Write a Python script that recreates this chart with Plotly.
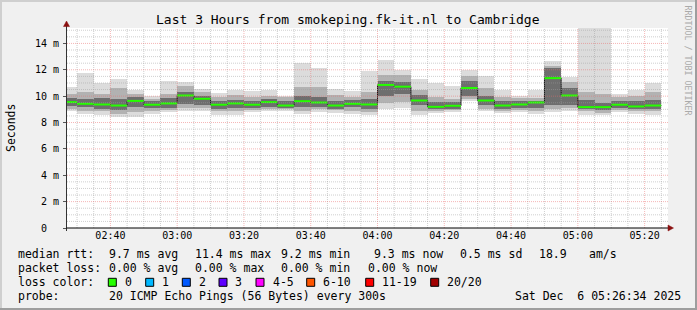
import plotly.graph_objects as go
import pandas as pd

# ---------------- data (ms) ----------------
start_time = "2025-12-06 02:25:00"   # first 5-minute step start
step_minutes = 5
minimum = [8.85, 8.67, 8.60, 8.42, 8.42, 8.62, 8.77, 8.85, 8.85, 8.60, 8.60, 8.80,
           8.90, 8.90, 8.67, 8.80, 8.75, 8.67, 8.54, 9.04, 9.07, 8.60, 8.74, 8.80,
           9.60, 8.84, 8.72, 8.79, 8.67, 8.79, 8.84, 8.60, 8.54, 8.79, 8.67, 8.60]
low10 = [9.05, 8.90, 8.85, 8.67, 8.80, 8.90, 8.95, 9.10, 9.10, 8.85, 8.85, 8.95,
         9.05, 9.00, 8.90, 9.00, 8.95, 8.90, 8.80, 9.50, 9.55, 8.90, 8.90, 8.95,
         9.80, 9.05, 8.90, 8.95, 8.90, 9.05, 9.10, 8.85, 8.75, 8.95, 8.90, 8.85]
low25 = [9.25, 9.20, 9.05, 8.95, 9.15, 9.10, 9.10, 9.40, 9.35, 9.05, 9.10, 9.10,
         9.20, 9.10, 9.15, 9.20, 9.05, 9.15, 9.05, 10.00, 10.20, 9.30, 9.00, 9.05,
         10.05, 9.30, 9.05, 9.10, 9.10, 9.30, 9.30, 9.00, 8.95, 9.10, 9.05, 9.00]
median = [9.55, 9.42, 9.37, 9.29, 9.64, 9.35, 9.45, 10.05, 9.80, 9.35, 9.45, 9.35,
          9.55, 9.29, 9.62, 9.52, 9.29, 9.42, 9.37, 10.85, 10.72, 9.67, 9.19, 9.27,
          10.62, 9.67, 9.29, 9.37, 9.52, 11.37, 10.05, 9.17, 9.17, 9.35, 9.22, 9.29]
high75 = [9.85, 9.80, 9.85, 9.80, 9.90, 9.60, 9.85, 10.30, 10.00, 9.65, 9.70, 9.65,
          9.75, 9.60, 10.00, 9.90, 9.60, 9.70, 9.80, 11.15, 11.10, 10.10, 9.55, 9.55,
          11.15, 10.05, 9.60, 9.60, 9.65, 12.10, 10.65, 9.70, 9.50, 9.60, 9.60, 9.70]
high90 = [10.15, 10.30, 10.15, 10.60, 10.15, 9.80, 10.15, 10.75, 10.30, 9.95, 10.10, 9.95,
          10.00, 9.90, 10.67, 10.70, 10.10, 9.95, 10.30, 11.60, 11.60, 10.50, 9.90, 9.80,
          11.50, 10.60, 9.95, 9.85, 9.85, 12.30, 11.10, 10.30, 10.20, 9.90, 10.00, 10.30]
maximum = [10.72, 11.78, 11.00, 11.32, 10.45, 10.02, 11.13, 11.10, 10.55, 10.27, 10.47, 10.42,
           10.47, 10.05, 12.50, 12.10, 10.55, 10.42, 11.92, 12.73, 12.00, 11.30, 11.00, 10.80,
           11.97, 11.55, 10.47, 9.98, 10.47, 12.67, 11.47, 15.50, 15.50, 10.17, 10.47, 10.97]

y_tick_values = [0, 2, 4, 6, 8, 10, 12, 14]
y_tick_labels = ["0\u00a0\u00a0", "2 m", "4 m", "6 m", "8 m", "10 m", "12 m", "14 m"]
x_range = ["2025-12-06 02:27:00", "2025-12-06 05:27:00"]
y_max = 15.17

title_text = "Last 3 Hours from smokeping.fk-it.nl to Cambridge"
legend_rows = [
    [("median rtt:", 16), ("9.7 ms avg", 107.3), ("11.4 ms max", 193.3), ("9.2 ms min", 279.3),
     ("9.3 ms now", 372.3), ("0.5 ms sd", 458.3), ("18.9", 537.3), ("am/s", 586.7)],
    [("packet loss:", 16), ("0.00 % avg", 107.3), ("0.00 % max", 193.3), ("0.00 % min", 279.3),
     ("0.00 % now", 365.7)],
    [("loss color:", 16)],
    [("probe:", 16), ("20 ICMP Echo Pings (56 Bytes) every 300s", 107.3),
     ("Sat Dec\u00a0\u00a06 05:26:34 2025", 513.3)],
]
loss_labels = ["0", "1", "2", "3", "4-5", "6-10", "11-19", "20/20"]
loss_colors = ["#26ff00", "#00b8ff", "#0059ff", "#5e00ff", "#ff00ff", "#ff5500", "#ff0000", "#a10000"]
loss_box_x = [108.3, 145.7, 182.3, 219.0, 256.0, 306.7, 365.7, 430.7]

# ---------------- geometry ----------------
W, H = 697, 310
PL, PR, PT, PB = 67, 668, 28, 228
FONT = "DejaVu Sans Mono"


def px(x):
    return (x - PL) / (PR - PL)


def py(y):
    return (PB - y) / (PB - PT)


n = len(median)
starts = pd.date_range(start_time, periods=n, freq=f"{step_minutes}min")
ends = starts + pd.Timedelta(minutes=step_minutes)
centers = starts + pd.Timedelta(minutes=step_minutes / 2)
width_ms = step_minutes * 60 * 1000

fig = go.Figure()

bands = [(minimum, maximum, "#dcdcdc"), (low10, high90, "#b2b2b2"), (low25, high75, "#6e6e6e")]
for lo, hi, col in bands:
    fig.add_trace(go.Bar(
        x=centers, y=[h - l for l, h in zip(lo, hi)], base=lo, width=width_ms,
        marker=dict(color=col, line=dict(width=0)), showlegend=False, hoverinfo="skip"))

# dark step connector
fig.add_trace(go.Scatter(
    x=list(starts) + [ends[-1]], y=median + [median[-1]], mode="lines",
    line=dict(color="#1a1a1a", width=1, shape="hv"), showlegend=False, hoverinfo="skip"))

# green median segments
gx, gy = [], []
for s, e, m in zip(starts, ends, median):
    gx += [s, e, None]
    gy += [m, m, None]
fig.add_trace(go.Scatter(x=gx, y=gy, mode="lines", line=dict(color="#26ff00", width=2),
                         showlegend=False, hoverinfo="skip"))

shapes = []
# grid (drawn over the data like rrdtool)
t1 = pd.Timestamp(x_range[1])
t = pd.Timestamp("2025-12-06 02:30:00")
while t < t1:
    major = (t.minute % 20 == 0)
    shapes.append(dict(type="line", xref="x", yref="paper", x0=t, x1=t, y0=0, y1=1, layer="above",
                       line=dict(color="rgba(235,110,110,0.5)" if major else "rgba(160,160,160,0.5)",
                                 width=1, dash="1px,1px")))
    t += pd.Timedelta(minutes=5)
v = 0.5
while v < y_max:
    major = abs(v / 2 - round(v / 2)) < 1e-9
    shapes.append(dict(type="line", xref="paper", yref="y", x0=0, x1=1, y0=v, y1=v, layer="above",
                       line=dict(color="rgba(235,110,110,0.5)" if major else "rgba(160,160,160,0.5)",
                                 width=1, dash="1px,1px")))
    v += 0.5

# axes lines and arrows
shapes.append(dict(type="line", xref="paper", yref="paper", x0=px(66.5), x1=px(66.5), y0=py(231), y1=py(25),
                   line=dict(color="#333333", width=1), layer="above"))
shapes.append(dict(type="line", xref="paper", yref="paper", x0=px(66.5), x1=px(670), y0=py(228), y1=py(228),
                   line=dict(color="#000000", width=1), layer="above"))
arrow = "#8b1010"
shapes.append(dict(type="path", xref="paper", yref="paper",
                   path=f"M {px(63.5)} {py(26.5)} L {px(69.5)} {py(26.5)} L {px(66.5)} {py(21)} Z",
                   fillcolor=arrow, line=dict(color=arrow, width=0.5), layer="above"))
shapes.append(dict(type="path", xref="paper", yref="paper",
                   path=f"M {px(668)} {py(225)} L {px(668)} {py(231)} L {px(673.5)} {py(228)} Z",
                   fillcolor=arrow, line=dict(color=arrow, width=0.5), layer="above"))

# frame (3D border)
shapes += [
    dict(type="rect", xref="paper", yref="paper", x0=px(0), x1=px(W), y0=py(0), y1=py(2),
         fillcolor="#cfcfcf", line=dict(width=0), layer="below"),
    dict(type="rect", xref="paper", yref="paper", x0=px(0), x1=px(2), y0=py(0), y1=py(H),
         fillcolor="#cfcfcf", line=dict(width=0), layer="below"),
    dict(type="rect", xref="paper", yref="paper", x0=px(W - 2), x1=px(W), y0=py(0), y1=py(H),
         fillcolor="#9e9e9e", line=dict(width=0), layer="below"),
    dict(type="rect", xref="paper", yref="paper", x0=px(0), x1=px(W), y0=py(H - 2), y1=py(H),
         fillcolor="#9e9e9e", line=dict(width=0), layer="below"),
]

annotations = []
annotations.append(dict(text=title_text, x=px(348), y=py(19), xref="paper", yref="paper",
                        xanchor="center", yanchor="middle", showarrow=False,
                        font=dict(family=FONT, size=13, color="#000")))
annotations.append(dict(text="Seconds", x=px(11), y=py(128), xref="paper", yref="paper",
                        xanchor="center", yanchor="middle", showarrow=False, textangle=-90,
                        font=dict(family=FONT, size=11.5, color="#000")))
annotations.append(dict(text="RRDTOOL / TOBI OETIKER", x=px(687.5), y=py(60), xref="paper", yref="paper",
                        xanchor="center", yanchor="middle", showarrow=False, textangle=90,
                        font=dict(family=FONT, size=8.3, color="#aaaaaa")))
row_y = [254.3, 268.3, 282.3, 296.3]
for row, yy in zip(legend_rows, row_y):
    for txt, xx in row:
        annotations.append(dict(text=txt, x=px(xx), y=py(yy), xref="paper", yref="paper",
                                xanchor="left", yanchor="middle", showarrow=False,
                                font=dict(family=FONT, size=11.5, color="#000")))
for lab, col, bx in zip(loss_labels, loss_colors, loss_box_x):
    shapes.append(dict(type="rect", xref="paper", yref="paper", x0=px(bx), x1=px(bx + 8),
                       y0=py(286.3), y1=py(278.3), fillcolor=col, line=dict(color="#000", width=1),
                       layer="above"))
    annotations.append(dict(text=lab, x=px(bx + 14.5), y=py(282.3), xref="paper", yref="paper",
                            xanchor="left", yanchor="middle", showarrow=False,
                            font=dict(family=FONT, size=11.5, color="#000")))

fig.update_layout(
    width=W, height=H, autosize=False,
    margin=dict(l=PL, r=W - PR, t=PT, b=H - PB, pad=0),
    paper_bgcolor="#f0f0f0", plot_bgcolor="#ffffff",
    barmode="overlay", bargap=0, showlegend=False,
    shapes=shapes, annotations=annotations,
    xaxis=dict(type="date", range=x_range, tickformat="%H:%M", dtick=20 * 60 * 1000,
               tick0="2025-12-06 02:40:00", showgrid=False, zeroline=False, showline=False,
               ticks="", tickfont=dict(family=FONT, size=10, color="#000")),
    yaxis=dict(range=[0, y_max], tickvals=y_tick_values, ticktext=y_tick_labels,
               showgrid=False, zeroline=False, showline=False,
               ticks="outside", ticklen=3, tickcolor="#555", ticklabelstandoff=2,
               tickfont=dict(family=FONT, size=10, color="#000")),
)

fig.write_html("out.html")
